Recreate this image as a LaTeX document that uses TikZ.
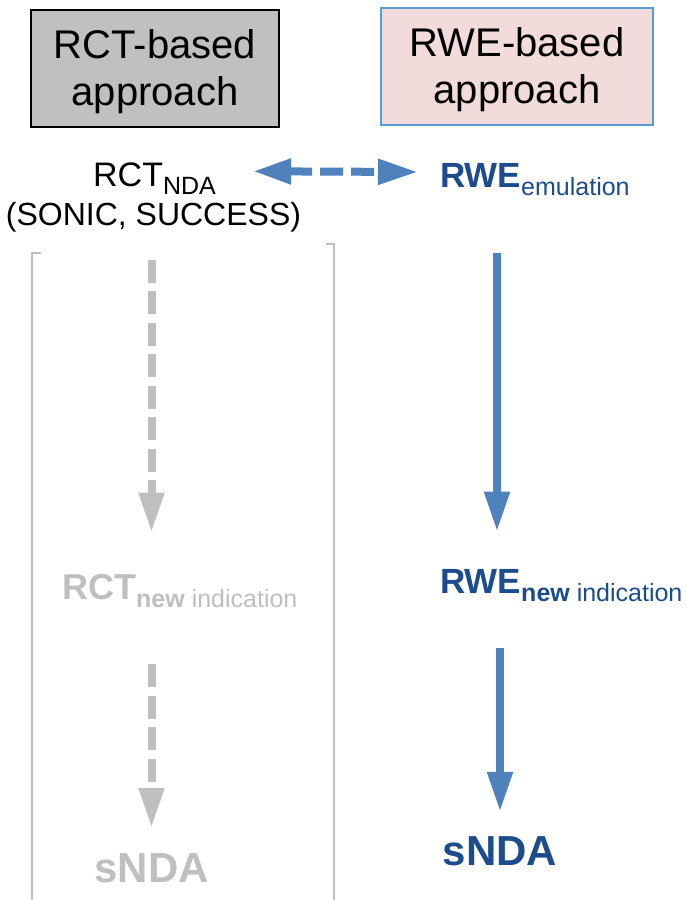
\documentclass[tikz,border=0pt]{standalone}
\usepackage{fontspec}
\setmainfont{Liberation Sans}
\usetikzlibrary{positioning,arrows.meta}

\definecolor{boxgrey}{HTML}{C0C0C0}
\definecolor{boxpink}{HTML}{F2DCDB}
\definecolor{boxblue}{HTML}{5B9BD5}
\definecolor{arrowblue}{HTML}{4F81BD}
\definecolor{textblue}{HTML}{1C4C8C}
\definecolor{fadegrey}{HTML}{BFBFBF}

% lowered small text after a label
\newcommand{\lowsub}[1]{\raisebox{-8pt}{\fontsize{25}{25}\selectfont #1}}

\begin{document}
\begin{tikzpicture}[x=1pt,y=-1pt]
\tikzset{
    approach/.style={rectangle, minimum width=248pt, minimum height=117pt, align=center, inner sep=0pt, text height=82pt, font=\fontsize{40}{47}\selectfont},
    label/.style={inner sep=0pt},
    bluearrow/.style={arrowblue, line width=8pt, -{Triangle[length=40pt,width=24pt]}},
    greyarrow/.style={fadegrey, line width=8pt, dash pattern=on 23pt off 8.5pt, -{Triangle[length=40pt,width=24pt]}},
    linkarrow/.style={arrowblue, line width=8pt, dash pattern=on 23pt off 8pt, {Triangle[length=38pt,width=24pt]}-{Triangle[length=40pt,width=24pt]}},
    bracket/.style={fadegrey, line width=2.8pt}
}
\useasboundingbox (0,0) rectangle (687,900);

% headers
\node[approach, draw=black, line width=1.5pt, fill=boxgrey] (rctbox) at (155,68.5) {RCT-based\\approach};
\node[approach, minimum width=272pt, draw=boxblue, line width=1.3pt, fill=boxpink] (rwebox) at (517,66.5) {RWE-based\\approach};

% left column
\node[label, anchor=base west] (rctnda) at (93,186) {\fontsize{34}{40}\selectfont RCT\lowsub{NDA}};
\node[label, anchor=base] (trials) at (153.5,225) {\fontsize{32}{40}\selectfont (SONIC, SUCCESS)};
\node[label, anchor=base west, text=fadegrey] (rctnew) at (62,599) {\fontsize{36}{40}\selectfont\bfseries RCT\lowsub{new \mdseries indication}};
\node[label, anchor=base, text=fadegrey] (sndal) at (151.5,882) {\fontsize{42}{48}\selectfont\bfseries sNDA};

% right column
\node[label, anchor=base west, text=textblue] (rweemu) at (440,187) {\fontsize{35}{40}\selectfont\bfseries RWE\lowsub{\mdseries emulation}};
\node[label, anchor=base west, text=textblue] (rwenew) at (440,593) {\fontsize{35}{40}\selectfont\bfseries RWE\lowsub{new \mdseries indication}};
\node[label, anchor=base, text=textblue] (sndar) at (500,865) {\fontsize{42}{48}\selectfont\bfseries sNDA};

% bracket round the RCT path
\draw[bracket] (41,253) -- (32,253) -- (32,900);
\draw[bracket] (326,244) -- (334,244) -- (334,900);

% arrows
\draw[linkarrow, shorten <=37pt, shorten >=22pt] ([yshift=7pt]rctnda.east) -- ([yshift=7pt]rweemu.west);
\draw[greyarrow, shorten <=28pt, shorten >=41pt] (trials.south -| sndal) -- (rctnew.north -| sndal);
\draw[greyarrow, shorten <=57pt, shorten >=25pt] (rctnew.south -| sndal) -- (sndal.north);
\draw[bluearrow, shorten <=58pt, shorten >=37pt] (rweemu.south -| 497,0) -- (rwenew.north -| 497,0);
\draw[bluearrow, shorten <=47pt, shorten >=24pt] (rwenew.south -| sndar) -- (sndar.north);
\end{tikzpicture}
\end{document}
